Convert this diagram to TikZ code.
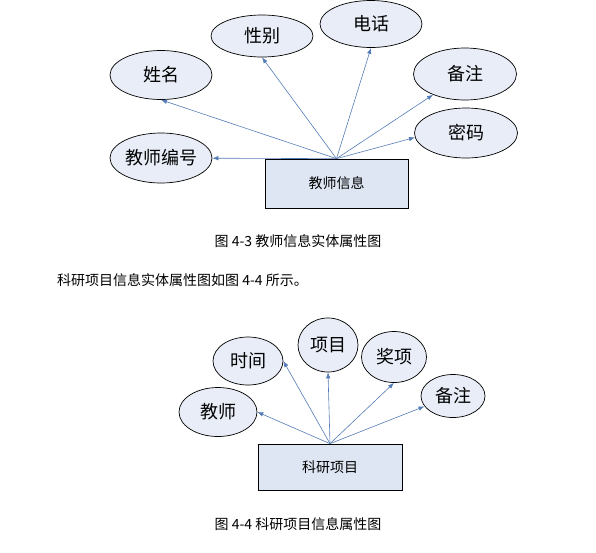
\documentclass[tikz,border=0pt]{standalone}
\usepackage{fontspec}
\setmainfont{Noto Sans CJK SC}
\usetikzlibrary{shapes.geometric,arrows.meta,positioning}
\definecolor{attrfill}{RGB}{232,237,247}
\definecolor{entfill}{RGB}{222,230,243}
\definecolor{linkblue}{RGB}{84,124,182}

\begin{document}
\begin{tikzpicture}[x=1pt, y=-1pt,
  attr/.style={ellipse, draw, fill=attrfill, line width=0.7pt, inner sep=0pt, font=\fontsize{18}{18}\selectfont},
  ent/.style={draw, fill=entfill, line width=0.7pt, inner sep=0pt, font=\fontsize{14}{14}\selectfont},
  figcap/.style={font=\fontsize{14}{14}\selectfont, inner sep=0pt},
  arr/.style={-{Latex[length=6pt,width=4.5pt]}, draw=linkblue, line width=0.6pt}
]
\useasboundingbox (0,0) rectangle (596,552);

% Figure 4-3 - teacher entity
\node[ent, minimum width=143pt, minimum height=49pt] (teacher) at (336.5,183.5) {教师信息};
\coordinate (thub) at (teacher.north);
\node[attr, minimum width=102pt, minimum height=42pt] (tsex)   at (262,36)  {性别};
\node[attr, minimum width=102pt, minimum height=47pt] (ttel)   at (371,24)  {电话};
\node[attr, minimum width=102pt, minimum height=49pt] (tname)  at (161,75)  {姓名};
\node[attr, minimum width=103pt, minimum height=52pt] (tnote)  at (465,74)  {备注};
\node[attr, minimum width=103pt, minimum height=50pt] (tpwd)   at (466,133) {密码};
\node[attr, minimum width=102pt, minimum height=50pt] (tid)    at (161,158) {教师编号};

\draw[arr] (thub) -- (tid);
\draw[arr] (thub) -- (tname.south);
\draw[arr] (thub) -- (tsex.south);
\draw[arr] (thub) -- (ttel.south);
\draw[arr] (thub) -- (tnote.213);
\draw[arr] (thub) -- (tpwd.185);

% captions and text
\node[figcap] (cap3) at (298,241) {图 4-3 教师信息实体属性图};
\node[figcap, anchor=west] (para) at (57,280) {科研项目信息实体属性图如图 4-4 所示。};

% Figure 4-4 - research project entity
\node[ent, minimum width=144pt, minimum height=46pt] (proj) at (330,467) {科研项目};
\coordinate (phub) at (proj.north);
\node[attr, minimum width=70pt, minimum height=48pt] (ptime)  at (248,361) {时间};
\node[attr, minimum width=60pt, minimum height=54pt] (pitem)  at (328,345) {项目};
\node[attr, minimum width=65pt, minimum height=51pt] (paward) at (394,357) {奖项};
\node[attr, minimum width=64pt, minimum height=43pt] (pnote)  at (453,396) {备注};
\node[attr, minimum width=78pt, minimum height=49pt] (pteach) at (218,412) {教师};

\draw[arr] (phub) -- (pteach.east);
\draw[arr] (phub) -- (ptime.east);
\draw[arr] (phub) -- (pitem.south);
\draw[arr] (phub) -- (paward.south);
\draw[arr] (phub) -- (pnote.200);

\node[figcap] (cap4) at (298,524) {图 4-4 科研项目信息属性图};
\end{tikzpicture}
\end{document}
